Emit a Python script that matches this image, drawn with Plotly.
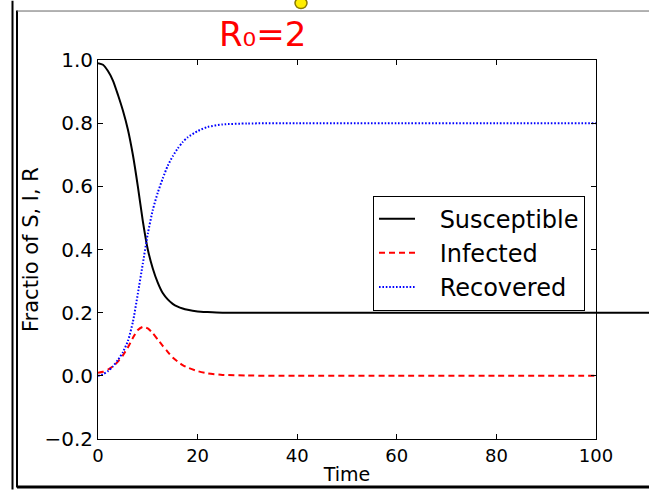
import plotly.graph_objects as go

# ---- data ----
time = [0, 1, 2, 3, 4, 5, 6, 7, 8, 9, 10, 11, 12, 13, 14, 15, 16, 17, 18, 20, 22, 25, 30, 40, 60, 80, 100]
susceptible = [0.99, 0.985, 0.965, 0.935, 0.89, 0.84, 0.78, 0.70, 0.60, 0.49, 0.40, 0.34, 0.295, 0.262,
               0.242, 0.228, 0.219, 0.213, 0.209, 0.204, 0.202, 0.2, 0.2, 0.2, 0.2, 0.2, 0.2]
infected = [0.01, 0.013, 0.02, 0.03, 0.045, 0.065, 0.09, 0.12, 0.145, 0.155, 0.15, 0.135, 0.115, 0.095,
            0.076, 0.058, 0.045, 0.034, 0.026, 0.015, 0.008, 0.003, 0.001, 0.0, 0.0, 0.0, 0.0]
recovered = [0.0, 0.005, 0.015, 0.03, 0.05, 0.075, 0.11, 0.17, 0.26, 0.355, 0.45, 0.525, 0.58, 0.625,
             0.665, 0.695, 0.72, 0.74, 0.755, 0.775, 0.788, 0.796, 0.799, 0.8, 0.8, 0.8, 0.8]
series_names = ["Susceptible", "Infected", "Recovered"]
x_ticks = [0, 20, 40, 60, 80, 100]
y_ticks = [-0.2, 0.0, 0.2, 0.4, 0.6, 0.8, 1.0]

W, H = 649, 494
L, R, T, B = 98, 596, 60, 443


def px(x):
    return (x - L) / (R - L)


def py(y):
    return (B - y) / (B - T)


FONT = "DejaVu Sans"
GAP = "\u2002\u00a0"  # visual gap between legend sample and label

fig = go.Figure()
fig.add_trace(go.Scatter(x=time, y=susceptible, name=GAP + series_names[0], mode="lines",
                         line=dict(color="black", width=2, shape="spline", smoothing=0.6)))
fig.add_trace(go.Scatter(x=time, y=infected, name=GAP + series_names[1], mode="lines",
                         line=dict(color="red", width=2, dash="6px,4px", shape="spline", smoothing=0.6)))
fig.add_trace(go.Scatter(x=time, y=recovered, name=GAP + series_names[2], mode="lines",
                         line=dict(color="blue", width=2, dash="1.6px,1.8px", shape="spline", smoothing=0.6)))

axis_common = dict(showgrid=False, zeroline=False, showline=True, linecolor="black", linewidth=1,
                   mirror="ticks", ticks="inside", ticklen=5, tickcolor="black")

fig.update_xaxes(range=[0, 100], tickvals=x_ticks,
                 tickfont=dict(family=FONT, size=18, color="black"),
                 title=dict(text="Time", font=dict(family=FONT, size=19, color="black"), standoff=3),
                 **axis_common)
fig.update_yaxes(range=[-0.2, 1.0], tickvals=y_ticks, tickformat=".1f",
                 tickfont=dict(family=FONT, size=20, color="black"),
                 title=dict(text="Fractio of S, I, R", font=dict(family=FONT, size=21, color="black"), standoff=0),
                 **axis_common)

shapes = [
    # outer frame of the screenshot
    dict(type="line", xref="paper", yref="paper", x0=px(12.5), x1=px(12.5), y0=py(0), y1=py(494),
         line=dict(color="black", width=2)),
    dict(type="line", xref="paper", yref="paper", x0=px(17), x1=px(17), y0=py(10), y1=py(492),
         line=dict(color="black", width=2)),
    dict(type="line", xref="paper", yref="paper", x0=px(17), x1=px(649), y0=py(10.5), y1=py(10.5),
         line=dict(color="#666666", width=1)),
    dict(type="line", xref="paper", yref="paper", x0=px(17), x1=px(649), y0=py(491.5), y1=py(491.5),
         line=dict(color="black", width=3)),
    # line continuing to the right edge at the final susceptible level
    dict(type="line", xref="paper", yref="y", x0=1, x1=px(649), y0=susceptible[-1], y1=susceptible[-1],
         line=dict(color="black", width=2)),
    # small yellow mark at the top
    dict(type="circle", xref="paper", yref="paper", x0=px(295), x1=px(307), y0=py(8), y1=py(-3),
         fillcolor="#ffee00", line=dict(color="#8a7a00", width=1.5)),
]

fig.update_layout(
    width=W, height=H,
    margin=dict(l=L, r=W - R, t=T, b=H - B),
    paper_bgcolor="white", plot_bgcolor="white",
    font=dict(family=FONT, color="black"),
    shapes=shapes,
    showlegend=True,
    legend=dict(x=px(585), xanchor="right", y=py(197), yanchor="top",
                bgcolor="white", bordercolor="black", borderwidth=1,
                font=dict(family=FONT, size=24, color="black"),
                itemwidth=36),
    annotations=[dict(text="R\u2080=2", xref="paper", yref="paper", x=px(262), y=py(34),
                      xanchor="center", yanchor="middle",
                      showarrow=False, font=dict(family=FONT, size=34, color="red"))],
)

fig.write_html("out.html")
